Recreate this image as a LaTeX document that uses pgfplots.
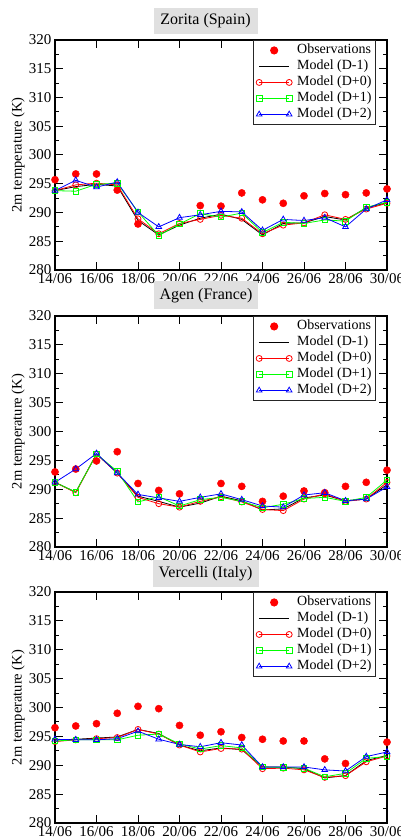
\documentclass[border=0pt]{standalone}
\usepackage{pgfplots}
\pgfplotsset{compat=1.18}
\usepackage{pgfplotstable}
\usepackage{fontspec}
\setmainfont{Liberation Serif}

\pgfplotstableread{
day obs dm1 d0 d1 d2
14 295.7 293.8 293.8 293.8 293.8
15 296.7 294.5 294.8 293.7 295.6
16 296.7 294.9 295.1 294.9 294.4
17 293.9 294.6 294.8 295.1 295.3
18 288.0 288.6 288.9 290.1 290.0
19 nan 286.1 286.3 286.0 287.5
20 nan 287.8 288.1 288.0 289.1
21 291.2 289.0 288.8 289.8 289.6
22 291.1 289.7 289.5 289.2 290.2
23 293.4 288.8 289.0 289.9 290.1
24 292.2 286.1 286.3 286.5 286.9
25 291.6 288.1 287.8 288.3 288.8
26 292.9 288.2 288.2 288.1 288.6
27 293.3 289.3 289.6 288.7 289.1
28 293.1 288.7 288.8 288.5 287.5
29 293.4 290.8 290.6 290.9 290.6
30 294.1 291.7 291.6 291.8 292.2
}\zorita

\pgfplotstableread{
day obs dm1 d0 d1 d2
14 293.0 291.2 291.2 291.2 291.2
15 293.5 289.5 289.4 289.5 293.5
16 294.9 296.1 296.1 296.1 296.2
17 296.5 292.8 292.8 293.1 292.8
18 291.0 288.8 288.6 287.8 289.1
19 289.8 287.9 287.5 288.7 288.5
20 289.2 286.9 286.9 287.1 287.9
21 nan 287.6 287.9 288.2 288.6
22 291.0 288.8 288.7 288.6 289.2
23 290.5 288.0 287.8 287.9 288.2
24 287.9 286.4 286.5 286.8 287.1
25 288.8 286.6 286.3 287.4 286.9
26 289.7 288.5 288.3 288.4 289.0
27 289.4 289.0 289.2 288.6 289.4
28 290.5 288.0 287.9 287.9 288.0
29 291.2 288.3 288.3 288.6 288.3
30 293.3 290.8 291.2 291.6 290.4
}\agen

\pgfplotstableread{
day obs dm1 d0 d1 d2
14 296.5 294.4 294.1 294.2 294.5
15 296.8 294.5 294.4 294.4 294.4
16 297.2 294.7 294.6 294.4 294.4
17 299.0 294.9 294.8 294.4 294.6
18 300.2 296.2 296.2 295.2 295.9
19 299.8 295.5 295.4 295.4 294.5
20 296.9 293.5 293.5 293.7 293.6
21 295.2 292.5 292.3 292.8 293.2
22 295.8 293.0 292.9 293.4 293.9
23 294.8 292.7 292.8 293.0 293.5
24 294.5 289.7 289.4 289.7 289.7
25 294.2 289.7 289.5 289.6 289.7
26 294.2 289.4 289.2 289.5 289.7
27 291.1 287.8 287.9 288.0 289.2
28 290.3 288.2 288.2 288.6 289.0
29 nan 290.8 290.6 291.2 291.5
30 294.0 291.7 291.6 291.5 292.3
}\vercelli

\pgfplotsset{
  panel/.style={
    width=332pt, height=230pt, scale only axis,
    anchor=south west,
    xmin=14, xmax=30, ymin=280, ymax=320,
    xtick={14,16,...,30},
    xticklabels={14/06,16/06,18/06,20/06,22/06,24/06,26/06,28/06,30/06},
    ytick={280,285,...,320},
    minor ytick={282.5,287.5,...,317.5},
    tick align=inside, xtick pos=both, ytick pos=both,
    major tick length=8pt, minor tick length=4pt,
    tick style={black, line width=1pt},
    axis line style={line width=1.2pt},
    ticklabel style={font=\fontsize{15}{15}\selectfont},
    /pgf/number format/assume math mode=true,
    ylabel={2m temperature (K)},
    ylabel style={font=\fontsize{14.5}{15}\selectfont, at={(axis description cs:-0.111,0.5)}, anchor=center},
    clip=false,
    legend cell align=left,
    legend style={at={(rel axis cs:1,1)}, anchor=north east, xshift=-11pt,
      draw=black!85, line width=0.9pt, fill=white,
      font=\fontsize{14}{15}\selectfont,
      nodes={inner sep=1pt, text height=10.5pt, text depth=3.5pt},
      inner xsep=3pt, inner ysep=2pt, row sep=0pt,
      /tikz/every odd column/.append style={column sep=4pt}},
    legend image code/.code={\draw[##1] plot coordinates {(0pt,0pt) (30pt,0pt)};},
  },
  obs/.style={only marks, mark=*, red, mark size=3.6pt,
    legend image code/.code={\draw[##1] plot coordinates {(15pt,0pt)};}},
  dm1/.style={black, line width=0.8pt, mark=none},
  dp0/.style={red, line width=0.8pt, mark=o, mark size=3pt, mark options={line width=0.8pt}},
  dp1/.style={green, line width=0.8pt, mark=square, mark size=2.8pt, mark options={line width=0.8pt}},
  dp2/.style={blue, line width=0.8pt, mark=triangle, mark size=3.3pt, mark options={line width=0.8pt}},
}

\newcommand{\panelplots}[1]{%
  \addplot[obs] table[x=day,y=obs] {#1};
  \addlegendentry{Observations}
  \addplot[dm1] table[x=day,y=dm1] {#1};
  \addlegendentry{Model (D-1)}
  \addplot[dp0] table[x=day,y=d0] {#1};
  \addlegendentry{Model (D+0)}
  \addplot[dp1] table[x=day,y=d1] {#1};
  \addlegendentry{Model (D+1)}
  \addplot[dp2] table[x=day,y=d2] {#1};
  \addlegendentry{Model (D+2)}
}

\begin{document}
\begin{tikzpicture}
\begin{axis}[panel, at={(55pt,568pt)}]
\panelplots{\zorita}
\end{axis}
\begin{axis}[panel, at={(55pt,291pt)}, height=231pt]
\panelplots{\agen}
\end{axis}
\begin{axis}[panel, at={(55pt,15pt)}, height=231pt]
\panelplots{\vercelli}
\end{axis}
\tikzset{ttl/.style={fill=black!12, minimum width=104pt, minimum height=26pt, inner sep=0pt, font=\fontsize{16}{16}\selectfont}}
\node[ttl] at (205.5pt,817pt) {Zorita (Spain)};
\node[ttl, minimum height=28pt] at (206pt,542.5pt) {Agen (France)};
\node[ttl, minimum width=106pt, minimum height=27pt] at (205.5pt,264.5pt) {Vercelli (Italy)};
\pgfresetboundingbox
\useasboundingbox (0pt,0pt) rectangle (401pt,838pt);
\end{tikzpicture}
\end{document}
